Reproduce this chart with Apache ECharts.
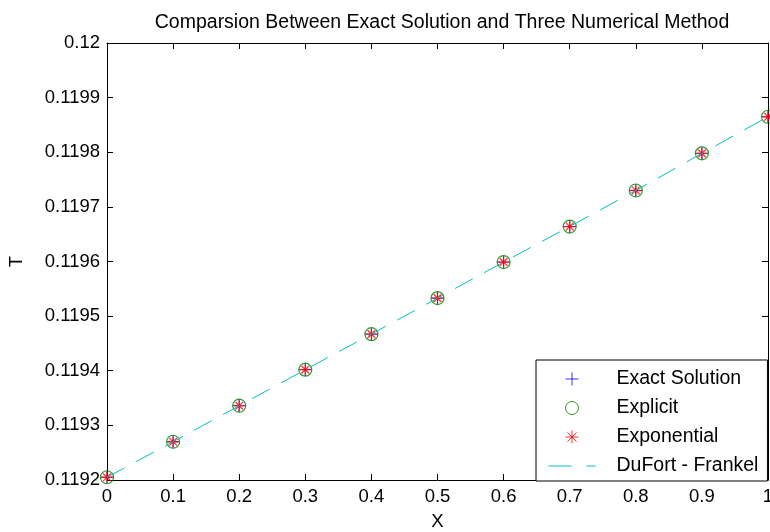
<!DOCTYPE html>
<html lang="en">
<head>
    <meta charset="UTF-8">
    <title>Comparsion Between Exact Solution and Three Numerical Method</title>
    <script src="https://cdn.jsdelivr.net/npm/echarts@6/dist/echarts.min.js"></script>
    <style>
        html, body { margin: 0; padding: 0; background: #fff; }
    </style>
</head>
<body>
    <div id="main" style="width: 770px;height:532px;"></div>
    <script type="text/javascript">
        // 数据：x 位置和四条曲线的 T 值
        var xValues = [0, 0.1, 0.2, 0.3, 0.4, 0.5, 0.6, 0.7, 0.8, 0.9, 1.0];
        var exactT = [0.119205, 0.119270, 0.119336, 0.119402, 0.119467, 0.119533, 0.119599, 0.119664, 0.119730, 0.119798, 0.119865];
        var explicitT = [0.119205, 0.119270, 0.119336, 0.119402, 0.119467, 0.119533, 0.119599, 0.119664, 0.119730, 0.119798, 0.119865];
        var exponentialT = [0.119205, 0.119270, 0.119336, 0.119402, 0.119467, 0.119533, 0.119599, 0.119664, 0.119730, 0.119798, 0.119865];
        var dufortT = [0.119205, 0.119270, 0.119336, 0.119402, 0.119467, 0.119533, 0.119599, 0.119664, 0.119730, 0.119798, 0.119865];
        var seriesNames = ['Exact Solution', 'Explicit', 'Exponential', 'DuFort - Frankel'];

        function pairs(ys) {
            return xValues.map(function (x, i) { return [x, ys[i]]; });
        }

        // 标记符号
        var plusIcon = 'path://M5,0L5,10M0,5L10,5';
        var starIcon = 'path://M5,0L5,10M0,5L10,5M1.5,1.5L8.5,8.5M8.5,1.5L1.5,8.5';
        var font = 'Liberation Sans, Arial, sans-serif';
        var lineColor = '#00bfbf';

        var myChart = echarts.init(document.getElementById('main'));

        var baseAxis = {
            axisLine: { show: true, onZero: false, lineStyle: { color: '#000', width: 1 } },
            axisTick: { show: true, inside: true, length: 6, lineStyle: { color: '#000' } },
            splitLine: { show: false },
            axisLabel: { color: '#000', fontSize: 18.5, fontFamily: font, margin: 7 }
        };

        var option = {
            animation: false,
            backgroundColor: '#fff',
            title: {
                text: 'Comparsion Between Exact Solution and Three Numerical Method',
                left: 437,
                top: 8,
                textAlign: 'center',
                textStyle: { color: '#000', fontSize: 19.5, fontWeight: 'normal', fontFamily: font }
            },
            grid: { left: 107, right: 2, top: 43, bottom: 52, outerBoundsMode: 'none' },
            legend: {
                orient: 'vertical',
                left: 536,
                top: 360,
                padding: [9, 9, 5, 12],
                itemWidth: 47,
                itemHeight: 13,
                itemGap: 9,
                borderColor: '#000',
                borderWidth: 1,
                backgroundColor: '#fff',
                textStyle: { color: '#000', fontSize: 19.5, fontFamily: font, padding: [0, 0, 0, 16] },
                data: [
                    { name: seriesNames[0], icon: plusIcon, itemStyle: { color: 'none', borderColor: '#0000ff', borderWidth: 1 } },
                    { name: seriesNames[1], icon: 'circle', itemStyle: { color: 'none', borderColor: '#008000', borderWidth: 1 } },
                    { name: seriesNames[2], icon: starIcon, itemStyle: { color: 'none', borderColor: '#ff0000', borderWidth: 1 } },
                    { name: seriesNames[3], itemStyle: { opacity: 0 }, lineStyle: { color: lineColor, width: 1, type: [23, 15] } }
                ]
            },
            xAxis: [
                Object.assign({}, baseAxis, {
                    type: 'value', position: 'bottom', min: 0, max: 1, interval: 0.1,
                    name: 'X', nameLocation: 'middle', nameGap: 32,
                    nameTextStyle: { color: '#000', fontSize: 18.5, fontFamily: font },
                    axisLabel: Object.assign({}, baseAxis.axisLabel, {
                        formatter: function (v) { return String(parseFloat(v.toFixed(1))); }
                    })
                }),
                Object.assign({}, baseAxis, {
                    type: 'value', position: 'top', min: 0, max: 1, interval: 0.1,
                    axisLabel: { show: false }
                })
            ],
            yAxis: [
                Object.assign({}, baseAxis, {
                    type: 'value', position: 'left', min: 0.1192, max: 0.12, interval: 0.0001,
                    name: 'T', nameLocation: 'middle', nameGap: 81, nameRotate: 90,
                    nameTextStyle: { color: '#000', fontSize: 18.5, fontFamily: font },
                    axisLabel: Object.assign({}, baseAxis.axisLabel, {
                        formatter: function (v) { return String(parseFloat(v.toFixed(4))); }
                    })
                }),
                Object.assign({}, baseAxis, {
                    type: 'value', position: 'right', min: 0.1192, max: 0.12, interval: 0.0001,
                    axisLabel: { show: false }
                })
            ],
            series: [
                {
                    name: seriesNames[0], type: 'scatter', data: pairs(exactT),
                    symbol: plusIcon, symbolSize: 13, z: 2,
                    itemStyle: { color: 'none', borderColor: '#0000ff', borderWidth: 1 }
                },
                {
                    name: seriesNames[1], type: 'scatter', data: pairs(explicitT),
                    symbol: 'circle', symbolSize: 13, z: 3,
                    itemStyle: { color: 'none', borderColor: '#008000', borderWidth: 1.2 }
                },
                {
                    name: seriesNames[2], type: 'scatter', data: pairs(exponentialT),
                    symbol: starIcon, symbolSize: 11, z: 4,
                    itemStyle: { color: 'none', borderColor: '#ff0000', borderWidth: 1.3 }
                },
                {
                    name: seriesNames[3], type: 'line', data: pairs(dufortT),
                    symbol: 'none', z: 5,
                    lineStyle: { color: lineColor, width: 1, type: [20, 13] },
                    itemStyle: { color: lineColor }
                }
            ]
        };

        myChart.setOption(option);
    </script>
</body>
</html>
